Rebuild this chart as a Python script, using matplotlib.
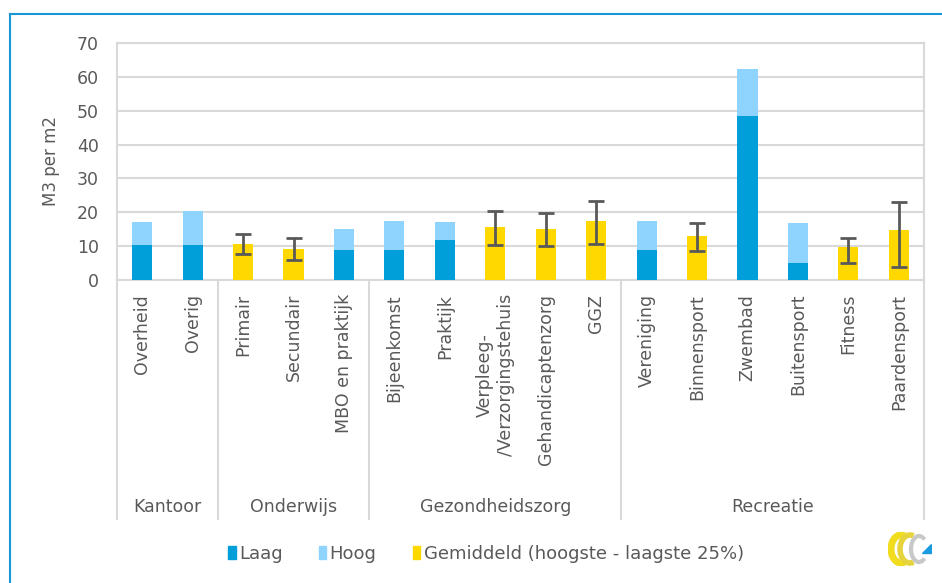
import matplotlib.pyplot as plt
import matplotlib.transforms as mtransforms
import numpy as np
from matplotlib.lines import Line2D
from matplotlib.patches import Arc, Patch, Polygon

nan = np.nan

categories = [
    "Overheid", "Overig",
    "Primair", "Secundair", "MBO en praktijk",
    "Bijeenkomst", "Praktijk", "Verpleeg-\n/Verzorgingstehuis", "Gehandicaptenzorg", "GGZ",
    "Vereniging", "Binnensport", "Zwembad", "Buitensport", "Fitness", "Paardensport",
]
groups = ["Kantoor", "Onderwijs", "Gezondheidszorg", "Recreatie"]
group_sizes = [2, 3, 5, 6]

# stacked blue bars: Laag value and Hoog (top of bar)
laag = [10.3, 10.3, nan, nan, 8.9, 8.9, 11.9, nan, nan, nan, 8.9, nan, 48.5, 5.0, nan, nan]
hoog = [17.2, 20.5, nan, nan, 15.2, 17.5, 17.1, nan, nan, nan, 17.5, nan, 62.2, 16.7, nan, nan]
# yellow bars: average with range (lowest - highest 25%)
gem = [nan, nan, 10.6, 9.2, nan, nan, nan, 15.6, 15.2, 17.5, nan, 12.9, nan, nan, 9.7, 14.9]
gem_lo = [nan, nan, 7.7, 5.8, nan, nan, nan, 10.2, 9.9, 10.7, nan, 8.5, nan, nan, 5.0, 3.9]
gem_hi = [nan, nan, 13.5, 12.4, nan, nan, nan, 20.3, 19.9, 23.2, nan, 16.8, nan, nan, 12.3, 22.9]

c_laag = "#009FDA"
c_hoog = "#8FD3FF"
c_gem = "#FFD800"
c_grid = "#D9D9D9"
c_text = "#595959"

plt.rcParams["font.family"] = "DejaVu Sans"

fig = plt.figure(figsize=(9.42, 5.83), dpi=100)
W, H = 942, 583
ax = fig.add_axes([117 / W, 1 - 280 / H, (924 - 117) / W, (280 - 43) / H])

x = np.arange(len(categories))
laag_a = np.array(laag)
hoog_a = np.array(hoog)
gem_a = np.array(gem)

bw = 0.4
ax.bar(x, laag_a, width=bw, color=c_laag, zorder=3)
ax.bar(x, hoog_a - laag_a, bottom=laag_a, width=bw, color=c_hoog, zorder=3)
ax.bar(x, gem_a, width=bw, color=c_gem, zorder=3)

m = ~np.isnan(gem_a)
yerr = [gem_a[m] - np.array(gem_lo)[m], np.array(gem_hi)[m] - gem_a[m]]
ax.errorbar(x[m], gem_a[m], yerr=yerr, fmt="none", ecolor=c_text,
            elinewidth=2, capsize=6, capthick=2, zorder=4)

ax.set_xlim(-0.5, len(categories) - 0.5)
ax.set_ylim(0, 70)
ax.set_yticks(range(0, 71, 10))
ax.grid(axis="y", color=c_grid, linewidth=1.5, zorder=0)
for s in ax.spines.values():
    s.set_color(c_grid)
    s.set_linewidth(1.5)

ax.set_xticks(x)
ax.set_xticklabels(categories, rotation=90, ha="center", va="top",
                   multialignment="center", fontsize=12.5, color=c_text)
ax.tick_params(axis="x", length=0, pad=10)
ax.tick_params(axis="y", length=0, pad=13, labelsize=12.5, labelcolor=c_text)
ax.set_ylabel("M3 per m2", fontsize=12, color=c_text, labelpad=12)

# group separators and group labels below the axis
trans = mtransforms.blended_transform_factory(ax.transData, ax.transAxes)
y_bottom = (280 - 519) / (280 - 43)
y_group = (280 - 507) / (280 - 43)
bounds = np.concatenate([[0], np.cumsum(group_sizes)]) - 0.5
for b in bounds:
    ax.plot([b, b], [0, y_bottom], transform=trans, color=c_grid,
            linewidth=1.5, clip_on=False)
for name, lo, hi in zip(groups, bounds[:-1], bounds[1:]):
    ax.text((lo + hi) / 2, y_group, name, transform=trans, ha="center",
            va="center", fontsize=12.5, color=c_text)

# legend
handles = [
    Patch(color=c_laag, label="Laag"),
    Patch(color=c_hoog, label="Hoog"),
    Patch(color=c_gem, label="Gemiddeld (hoogste - laagste 25%)"),
]
fig.legend(handles=handles, loc="center", bbox_to_anchor=(486 / W, 1 - 554 / H),
           ncol=3, frameon=False, fontsize=13, handlelength=0.4,
           handleheight=0.75, handletextpad=0.2, columnspacing=2.0,
           labelcolor=c_text)

# blue outer frame (top and left edge)
fig.add_artist(Line2D([10 / W, 1], [1 - 14 / H, 1 - 14 / H], color="#1A96D4", linewidth=1.5))
fig.add_artist(Line2D([10 / W, 10 / W], [0, 1 - 14 / H], color="#1A96D4", linewidth=1.5))

# small logo in the corner
lax = fig.add_axes([888 / W, 1 - 566 / H, 44 / W, 34 / H])
lax.set_xlim(0, 44)
lax.set_ylim(0, 34)
lax.axis("off")
lax.add_patch(Arc((13, 17), 20, 28, theta1=75, theta2=285, color="#F2DC1E", linewidth=5))
lax.add_patch(Arc((22, 17), 20, 28, theta1=75, theta2=285, color="#E6D43C", linewidth=4))
lax.add_patch(Arc((31, 17), 16, 26, theta1=60, theta2=300, color="#C8C8C8", linewidth=3))
lax.add_patch(Polygon([[34, 13], [43, 13], [43, 22]], closed=True, color="#1A9BE0"))

fig.savefig("out.png", dpi=100)
